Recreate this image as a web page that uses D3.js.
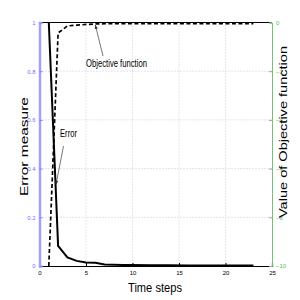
<!DOCTYPE html>
<html>
<head>
<meta charset="utf-8">
<script src="https://cdn.jsdelivr.net/npm/d3@7"></script>
<style>
  body { margin: 0; background: #fff; }
  svg { display: block; }
</style>
</head>
<body>
<svg width="300" height="300"></svg>
<script>
// data
const steps = [1, 2, 3, 4, 5, 6, 7, 8, 9, 10, 12, 14, 16, 18, 20, 23];
const errorValues = [1, 0.083, 0.035, 0.021, 0.014, 0.013, 0.006, 0.005, 0.004, 0.004, 0.003, 0.003, 0.002, 0.002, 0.002, 0.002];
const objSteps = [1, 2, 3, 4, 5, 6, 7, 8, 10, 14, 18, 23];
const objValues = [-10, -0.43, -0.14, -0.11, -0.08, -0.06, -0.05, -0.05, -0.05, -0.05, -0.05, -0.05];
const xTicks = [0, 5, 10, 15, 20, 25];
const leftTicks = [0, 0.2, 0.4, 0.6, 0.8, 1];
const rightTicks = [0, -2, -4, -6, -8, -10];

const plotLeft = 39.5, plotRight = 272, plotTop = 22.5, plotBottom = 266;
const narrow = 'Liberation Sans, Arial, sans-serif';

const svg = d3.select('svg');

const xScale = d3.scaleLinear().domain([0, 25]).range([plotLeft, plotRight]);
const yLeft = d3.scaleLinear().domain([0, 1]).range([plotBottom, plotTop]);
const yRight = d3.scaleLinear().domain([-10, 0]).range([plotBottom, plotTop]);

// grid
svg.append('g').selectAll('line')
  .data(leftTicks.slice(1, -1))
  .enter().append('line')
  .attr('x1', plotLeft).attr('x2', plotRight)
  .attr('y1', d => yLeft(d)).attr('y2', d => yLeft(d))
  .attr('stroke', '#c4c4f4').attr('stroke-width', 1)
  .attr('stroke-dasharray', '1,2');

svg.append('g').selectAll('line')
  .data(xTicks.slice(1, -1))
  .enter().append('line')
  .attr('x1', d => xScale(d)).attr('x2', d => xScale(d))
  .attr('y1', plotTop).attr('y2', plotBottom)
  .attr('stroke', '#cfcfcf').attr('stroke-width', 1)
  .attr('stroke-dasharray', '1,2');

// axes
const xAxis = d3.axisBottom(xScale).tickValues(xTicks).tickSize(-3).tickPadding(5);
svg.append('g')
  .attr('transform', `translate(0, ${plotBottom})`)
  .call(xAxis)
  .call(g => g.select('.domain').attr('stroke', '#000').attr('stroke-width', 1.2))
  .call(g => g.selectAll('.tick line').attr('stroke', '#000'))
  .call(g => g.selectAll('text').attr('font-size', 6).attr('font-family', narrow).attr('fill', '#000'));

// top border
svg.append('line')
  .attr('x1', plotLeft).attr('x2', plotRight)
  .attr('y1', plotTop).attr('y2', plotTop)
  .attr('stroke', '#000').attr('stroke-width', 1);

const yAxisL = d3.axisLeft(yLeft).tickValues(leftTicks).tickFormat(d3.format('')).tickSize(-3).tickPadding(4);
svg.append('g')
  .attr('transform', `translate(${plotLeft}, 0)`)
  .call(yAxisL)
  .call(g => g.select('.domain').attr('stroke', '#a0a0ff').attr('stroke-width', 2.5))
  .call(g => g.selectAll('.tick line').attr('stroke', '#8080ff'))
  .call(g => g.selectAll('text').attr('font-size', 6).attr('font-family', narrow).attr('fill', '#6f6fff'));

const yAxisR = d3.axisRight(yRight).tickValues(rightTicks).tickSize(-3).tickPadding(4);
svg.append('g')
  .attr('transform', `translate(${plotRight}, 0)`)
  .call(yAxisR)
  .call(g => g.select('.domain').attr('stroke', '#77c077').attr('stroke-width', 1))
  .call(g => g.selectAll('.tick line').attr('stroke', '#77c077'))
  .call(g => g.selectAll('text').attr('font-size', 6).attr('font-family', narrow).attr('fill', '#55bb55'));

// lines
const errLine = d3.line()
  .x((d, i) => xScale(steps[i]))
  .y(d => yLeft(d));

svg.append('path')
  .datum(errorValues)
  .attr('d', errLine)
  .attr('fill', 'none')
  .attr('stroke', '#000')
  .attr('stroke-width', 2);

const objLine = d3.line()
  .x((d, i) => xScale(objSteps[i]))
  .y(d => yRight(d));

svg.append('path')
  .datum(objValues)
  .attr('d', objLine)
  .attr('fill', 'none')
  .attr('stroke', '#000')
  .attr('stroke-width', 1.7)
  .attr('stroke-dasharray', '4,2.5');

// annotations
svg.append('defs').append('marker')
  .attr('id', 'arrow')
  .attr('viewBox', '0 0 10 10')
  .attr('refX', 10).attr('refY', 5)
  .attr('markerWidth', 5).attr('markerHeight', 5)
  .attr('orient', 'auto')
  .append('path')
  .attr('d', 'M0,1 L10,5 L0,9 Z')
  .attr('fill', '#333');

svg.append('line')
  .attr('x1', 103).attr('y1', 56)
  .attr('x2', xScale(6.0)).attr('y2', yRight(-0.1))
  .attr('stroke', '#555').attr('stroke-width', 0.8)
  .attr('marker-end', 'url(#arrow)');

svg.append('line')
  .attr('x1', 63.5).attr('y1', 146)
  .attr('x2', xScale(1.78)).attr('y2', yLeft(0.335))
  .attr('stroke', '#555').attr('stroke-width', 0.8)
  .attr('marker-end', 'url(#arrow)');

svg.append('text')
  .attr('x', 86).attr('y', 67)
  .attr('font-family', narrow)
  .attr('font-size', 11.5)
  .attr('textLength', 61).attr('lengthAdjust', 'spacingAndGlyphs')
  .text('Objective function');

svg.append('text')
  .attr('x', 60).attr('y', 137)
  .attr('font-family', narrow)
  .attr('font-size', 11.5)
  .attr('textLength', 17).attr('lengthAdjust', 'spacingAndGlyphs')
  .text('Error');

// axis titles
svg.append('text')
  .attr('transform', 'translate(28, 196) rotate(-90)')
  .attr('font-family', 'Liberation Sans, Arial, sans-serif')
  .attr('font-size', 10.5)
  .attr('textLength', 99).attr('lengthAdjust', 'spacingAndGlyphs')
  .text('Error measure');

svg.append('text')
  .attr('transform', 'translate(287, 218) rotate(-90)')
  .attr('font-family', 'Liberation Sans, Arial, sans-serif')
  .attr('font-size', 10.5)
  .attr('textLength', 172).attr('lengthAdjust', 'spacingAndGlyphs')
  .text('Value of Objective function');

svg.append('text')
  .attr('x', 128).attr('y', 292)
  .attr('font-family', narrow)
  .attr('font-size', 13)
  .attr('textLength', 54).attr('lengthAdjust', 'spacingAndGlyphs')
  .text('Time steps');
</script>
</body>
</html>
